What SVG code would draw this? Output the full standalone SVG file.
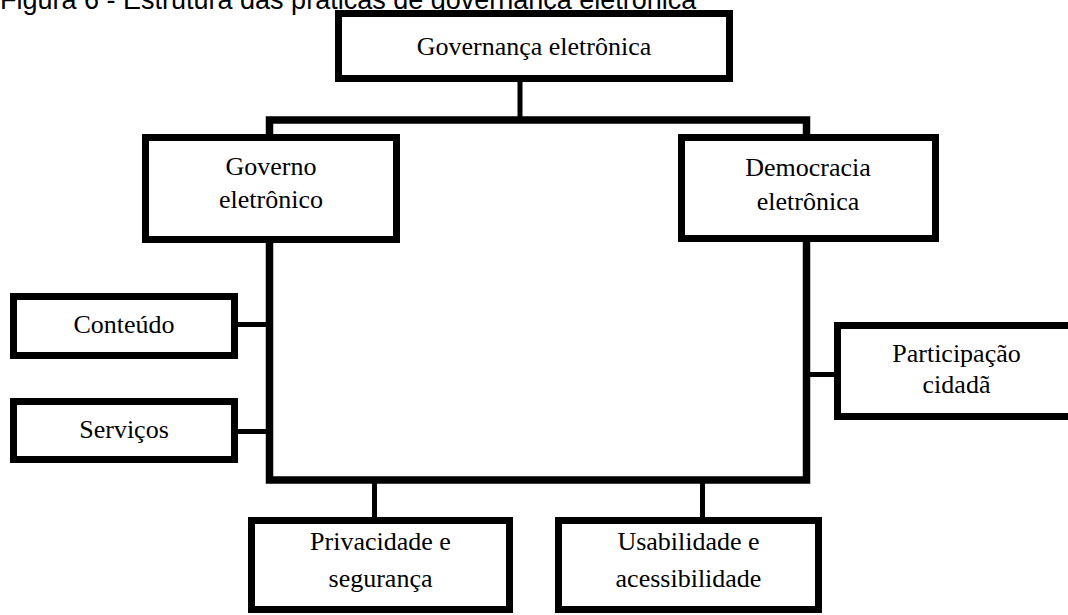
<svg xmlns="http://www.w3.org/2000/svg" width="1068" height="615" viewBox="0 0 1068 615">
<style>
.box{fill:#fff;stroke:#000;stroke-width:7}
.t{font-family:"Liberation Serif","Times New Roman",serif;font-size:26px;fill:#000;text-anchor:middle}
.title{font-family:"Liberation Sans",Arial,sans-serif;font-size:27px;fill:#000}
.c{fill:none;stroke:#000;stroke-linejoin:miter;stroke-linecap:butt}
</style>
<rect width="1068" height="615" fill="#fff"/>
<text class="title" x="0" y="9">Figura 6 - Estrutura das práticas de governança eletrônica</text>
<g id="connectors">
<path class="c" stroke-width="5" d="M520,82V117"/>
<path class="c" stroke-width="7.5" d="M269.5,135V120H806.5V135"/>
<path class="c" stroke-width="7.5" d="M269.5,242V480H806.5V242"/>
<path class="c" stroke-width="5" d="M238,324.5H268"/>
<path class="c" stroke-width="5" d="M238,431.5H268"/>
<path class="c" stroke-width="5" d="M810,374.5H835"/>
<path class="c" stroke-width="5" d="M374.5,483V518"/>
<path class="c" stroke-width="5" d="M702.5,483V518"/>
</g>
<g id="governanca">
<rect class="box" x="338.5" y="13.5" width="391" height="65"/>
<text class="t" x="534" y="55">Governança eletrônica</text>
</g>
<g id="governo">
<rect class="box" x="145.5" y="137.5" width="251" height="102"/>
<text class="t" x="271" y="175">Governo</text>
<text class="t" x="271" y="208">eletrônico</text>
</g>
<g id="democracia">
<rect class="box" x="681.5" y="137.5" width="254" height="101"/>
<text class="t" x="808" y="176">Democracia</text>
<text class="t" x="808" y="210">eletrônica</text>
</g>
<g id="conteudo">
<rect class="box" x="13.5" y="296.5" width="221" height="59"/>
<text class="t" x="124" y="333">Conteúdo</text>
</g>
<g id="servicos">
<rect class="box" x="13.5" y="401.5" width="221" height="58"/>
<text class="t" x="124" y="438">Serviços</text>
</g>
<g id="participacao">
<rect class="box" x="837.5" y="325.5" width="238" height="91"/>
<text class="t" x="956.5" y="362">Participação</text>
<text class="t" x="956.5" y="393">cidadã</text>
</g>
<g id="privacidade">
<rect class="box" x="251.5" y="520.5" width="258" height="89"/>
<text class="t" x="380.5" y="550">Privacidade e</text>
<text class="t" x="380.5" y="587">segurança</text>
</g>
<g id="usabilidade">
<rect class="box" x="558.5" y="520.5" width="260" height="89"/>
<text class="t" x="688.5" y="550">Usabilidade e</text>
<text class="t" x="688.5" y="587">acessibilidade</text>
</g>
</svg>
